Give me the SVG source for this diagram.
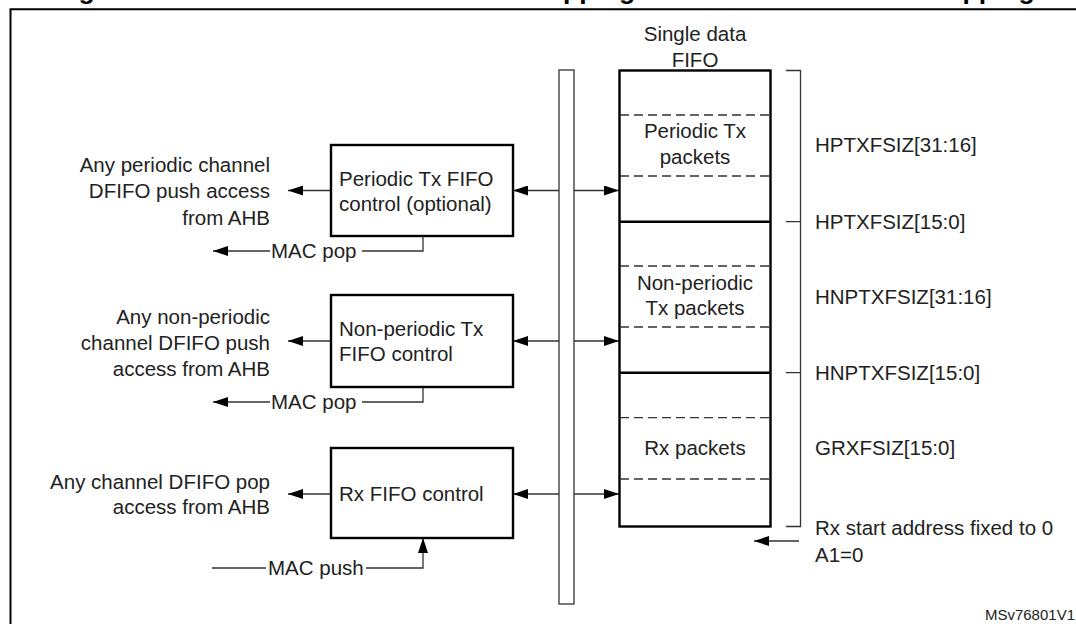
<svg xmlns="http://www.w3.org/2000/svg" width="1076" height="624" viewBox="0 0 1076 624">
<defs>
<marker id="ah" markerUnits="userSpaceOnUse" markerWidth="15" markerHeight="10" refX="15" refY="5" orient="auto" viewBox="0 0 15 10">
<path d="M0,0 L15,5 L0,10 z" fill="#000"/>
</marker>
<style>
text{font-family:"Liberation Sans",Arial,sans-serif;font-size:20.5px;fill:#222}
.title{font-weight:bold;font-size:26.5px;fill:#000}
.end{text-anchor:end}
.mid{text-anchor:middle}
.box{fill:#fff;stroke:#000;stroke-width:2.4}
.thin{fill:none;stroke:#333;stroke-width:1.3}
.arr{fill:none;stroke:#333;stroke-width:1.3;marker-end:url(#ah)}
.dash{fill:none;stroke:#333;stroke-width:1.3;stroke-dasharray:9 5}
.div{fill:none;stroke:#000;stroke-width:2.4}
.small{font-size:15px}
</style>
</defs>
<rect width="1076" height="624" fill="#fff"/>
<g id="title">
<text class="title" x="55" y="-1.5">Figure 754. Host-mode FIFO address mapping and AHB FIFO access mapping</text>
</g>
<g id="frame">
<path d="M10.5,624 V9.3 H1076" fill="none" stroke="#000" stroke-width="2"/>
</g>
<g id="connectors">
<path class="arr" d="M559,190.5 H513"/>
<path class="arr" d="M574,190.5 H619"/>
<path class="arr" d="M331,190.5 H288"/>
<path class="thin" d="M423,236 V251 H362"/>
<path class="arr" d="M270,251 H213"/>
<path class="arr" d="M559,341 H513"/>
<path class="arr" d="M574,341 H619"/>
<path class="arr" d="M331,341 H288"/>
<path class="thin" d="M423,387 V402 H362"/>
<path class="arr" d="M270,402 H213"/>
<path class="arr" d="M559,494 H513"/>
<path class="arr" d="M574,494 H619"/>
<path class="arr" d="M331,494 H288"/>
<path class="thin" d="M212,568 H266"/>
<path class="arr" d="M366,568 H423 V538"/>
<path class="arr" d="M799,541 H754"/>
</g>
<g id="bus">
<rect x="559" y="70" width="15" height="534" fill="#fff" stroke="#333" stroke-width="1.3"/>
</g>
<g id="periodic-tx-ctrl">
<rect class="box" x="331" y="145" width="182" height="91"/>
<text x="339" y="185.5">Periodic Tx FIFO</text>
<text x="339" y="210.5">control (optional)</text>
</g>
<g id="nonperiodic-tx-ctrl">
<rect class="box" x="331" y="295" width="182" height="92"/>
<text x="339" y="336">Non-periodic Tx</text>
<text x="339" y="361">FIFO control</text>
</g>
<g id="rx-ctrl">
<rect class="box" x="331" y="448" width="182" height="90"/>
<text x="339" y="500.5">Rx FIFO control</text>
</g>
<g id="left-labels">
<text class="end" x="270" y="172">Any periodic channel</text>
<text class="end" x="270" y="198">DFIFO push access</text>
<text class="end" x="270" y="224.5">from AHB</text>
<text x="271" y="258">MAC pop</text>
<text class="end" x="270" y="323.5">Any non-periodic</text>
<text class="end" x="270" y="349.5">channel DFIFO push</text>
<text class="end" x="270" y="375.5">access from AHB</text>
<text x="271" y="409">MAC pop</text>
<text class="end" x="270" y="489">Any channel DFIFO pop</text>
<text class="end" x="270" y="514">access from AHB</text>
<text x="268" y="575">MAC push</text>
</g>
<g id="fifo">
<text class="mid" x="695" y="41">Single data</text>
<text class="mid" x="695" y="66.5">FIFO</text>
<rect x="619.5" y="70.5" width="151" height="456" fill="none" stroke="#000" stroke-width="2.4"/>
<path class="dash" d="M620,115 H770 M620,176 H770 M620,266 H770 M620,327 H770 M620,417.7 H770 M620,479 H770"/>
<path class="div" d="M620,221.7 H770 M620,372.7 H770"/>
<text class="mid" x="695" y="138">Periodic Tx</text>
<text class="mid" x="695" y="164">packets</text>
<text class="mid" x="695" y="290">Non-periodic</text>
<text class="mid" x="695" y="315">Tx packets</text>
<text class="mid" x="695" y="455">Rx packets</text>
</g>
<g id="bracket">
<path class="thin" d="M786,70.5 H800.5 V526.5 H786 M786,221.7 H800.5 M786,372.7 H800.5"/>
<text x="815" y="152">HPTXFSIZ[31:16]</text>
<text x="815" y="229">HPTXFSIZ[15:0]</text>
<text x="815" y="303.5">HNPTXFSIZ[31:16]</text>
<text x="815" y="380">HNPTXFSIZ[15:0]</text>
<text x="815" y="455">GRXFSIZ[15:0]</text>
<text x="815" y="534.5">Rx start address fixed to 0</text>
<text x="815" y="562">A1=0</text>
</g>
<g id="ref">
<text class="small end" x="1075" y="620">MSv76801V1</text>
</g>
</svg>
